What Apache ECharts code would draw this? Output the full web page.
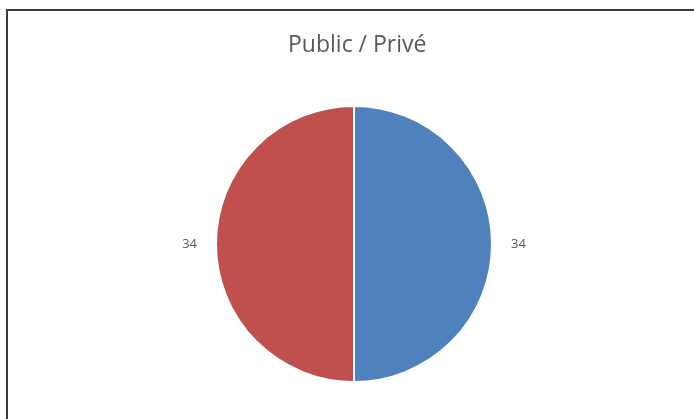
<!DOCTYPE html>
<html>
<head>
<meta charset="utf-8">
<script src="https://cdn.jsdelivr.net/npm/echarts@6/dist/echarts.min.js"></script>
<style>
html,body{margin:0;padding:0;background:#fff;}
#frame{position:absolute;left:0;top:0;width:694px;height:419px;background:#fff;}
#border{position:absolute;left:6px;top:9px;width:700px;height:420px;border-top:2px solid #3c3c3c;border-left:2px solid #3c3c3c;}
#chart{position:absolute;left:0;top:0;width:694px;height:419px;}
</style>
</head>
<body>
<div id="frame"><div id="border"></div><div id="chart"></div></div>
<script>
const titleText = 'Public / Privé';
const categories = ['Public', 'Privé'];
const values = [34, 34];
const colors = ['#4F81BD', '#C0504D'];

const chart = echarts.init(document.getElementById('chart'), null, {renderer: 'canvas'});
chart.setOption({
  animation: false,
  title: {
    text: titleText,
    left: 283,
    top: 29,
    textStyle: {fontFamily: 'Open Sans', fontSize: 23, fontWeight: 'normal', color: '#595959'}
  },
  series: [{
    type: 'pie',
    center: [354, 244],
    radius: [0, 138],
    startAngle: 90,
    clockwise: true,
    data: categories.map((c, i) => ({name: c, value: values[i], itemStyle: {color: colors[i]}})),
    itemStyle: {borderColor: '#ffffff', borderWidth: 2},
    label: {
      show: true,
      position: 'outside',
      formatter: '{c}',
      fontFamily: 'Open Sans',
      fontSize: 13,
      color: '#595959'
    },
    labelLine: {show: false, length: 8, length2: 6},
    emphasis: {disabled: true}
  }]
});
</script>
</body>
</html>
